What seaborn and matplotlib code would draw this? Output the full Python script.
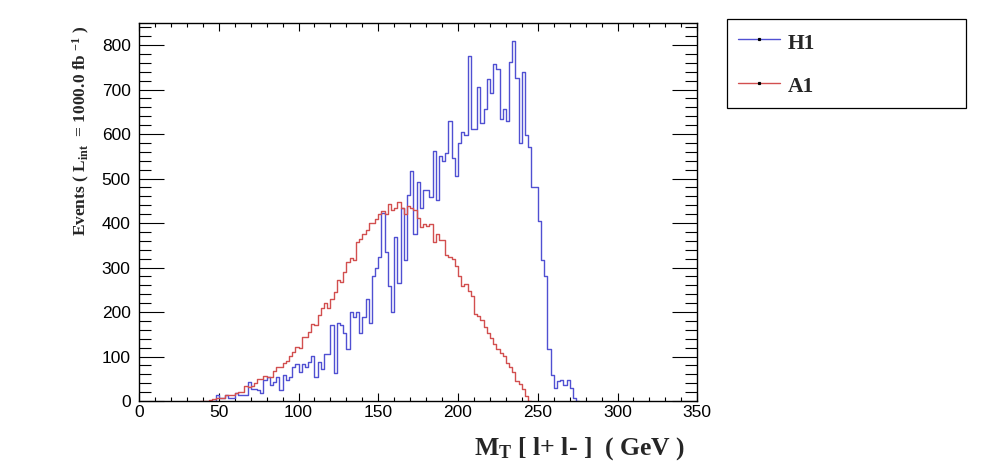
import numpy as np
import pandas as pd
import matplotlib
matplotlib.use("Agg")
import matplotlib.pyplot as plt
from matplotlib.ticker import MultipleLocator
from matplotlib.lines import Line2D
import seaborn as sns

# ---------------- data ----------------
bin_width = 2.0
x_range = (0, 350)

h1_first_bin = 46.0
h1_events = [0, 13, 6, 6, 14, 6, 6, 17, 14, 13,
             13, 42, 28, 28, 25, 17, 47, 53, 35, 43,
             53, 25, 59, 48, 53, 77, 83, 65, 83, 77,
             88, 101, 53, 87, 71, 106, 106, 171, 64, 176,
             171, 153, 116, 200, 189, 200, 153, 189, 230, 175,
             281, 299, 324, 423, 336, 258, 200, 369, 265, 434,
             318, 464, 518, 376, 493, 434, 475, 475, 459, 563,
             452, 551, 540, 558, 629, 547, 505, 581, 605, 599,
             775, 611, 611, 705, 624, 657, 723, 693, 757, 746,
             635, 657, 629, 763, 810, 727, 581, 740, 599, 570,
             482, 482, 405, 318, 282, 117, 59, 29, 44, 47,
             36, 47, 29, 6]

a1_first_bin = 40.0
a1_events = [1, 1, 2, 4, 6, 6, 6, 14, 13, 14,
             17, 20, 21, 33, 31, 34, 40, 49, 49, 56,
             53, 55, 68, 76, 76, 85, 89, 101, 110, 121,
             119, 144, 144, 156, 172, 170, 193, 208, 220, 209,
             229, 246, 272, 268, 291, 313, 322, 317, 358, 365,
             376, 385, 401, 400, 409, 421, 427, 421, 443, 430,
             434, 448, 434, 421, 439, 434, 430, 411, 391, 398,
             394, 397, 358, 376, 361, 363, 329, 323, 319, 303,
             280, 258, 263, 248, 235, 196, 190, 181, 166, 153,
             141, 129, 117, 107, 102, 85, 76, 65, 45, 38,
             26, 12]

series_names = ["H1", "A1"]
series_first = {"H1": h1_first_bin, "A1": a1_first_bin}
series_counts = {"H1": h1_events, "A1": a1_events}
series_colors = {"H1": "#5050d2", "A1": "#d24f4f"}
x_ticks = [0, 50, 100, 150, 200, 250, 300, 350]
y_ticks = [0, 100, 200, 300, 400, 500, 600, 700, 800]
y_max = 849

# ---------------- table for seaborn ----------------
def to_frame(name):
    counts = series_counts[name]
    centers = series_first[name] + bin_width * (np.arange(len(counts)) + 0.5)
    return pd.DataFrame({"mt": centers, "events": counts, "sample": name})

df = pd.concat([to_frame(n) for n in series_names], ignore_index=True)

# ---------------- style ----------------
sns.set_style("ticks")
plt.rcParams["font.family"] = ["Liberation Sans", "DejaVu Sans"]
plt.rcParams["mathtext.fontset"] = "custom"
plt.rcParams["mathtext.rm"] = "Liberation Serif:bold"
plt.rcParams["mathtext.it"] = "Liberation Serif:bold"
plt.rcParams["mathtext.bf"] = "Liberation Serif:bold"
plt.rcParams["mathtext.default"] = "bf"

fig = plt.figure(figsize=(9.96, 4.72), dpi=100)
ax = fig.add_axes([0.1396, 0.1504, 0.7001 - 0.1396, 0.9506 - 0.1504])

for name in series_names:
    sub = df[df["sample"] == name]
    lo = series_first[name] - bin_width
    hi = series_first[name] + bin_width * (len(series_counts[name]) + 1)
    sns.histplot(data=sub, x="mt", weights="events", binwidth=bin_width,
                 binrange=(lo, hi), element="step", fill=False,
                 color=series_colors[name], linewidth=1.0, ax=ax, zorder=2)

ax.set_xlim(*x_range)
ax.set_ylim(0, y_max)
ax.set_xticks(x_ticks)
ax.set_yticks(y_ticks)
ax.xaxis.set_minor_locator(MultipleLocator(10))
ax.yaxis.set_minor_locator(MultipleLocator(20))
ax.tick_params(which="both", direction="in", top=True, right=True,
               colors="black", width=0.8)
ax.tick_params(axis="x", which="major", length=5.8, pad=3, labelsize=12.5)
ax.tick_params(axis="x", which="minor", length=2.9)
ax.tick_params(axis="y", which="major", length=17.8, pad=6, labelsize=12.5)
ax.tick_params(axis="y", which="minor", length=8.9)
for sp in ax.spines.values():
    sp.set_visible(True)
    sp.set_linewidth(1.0)
    sp.set_color("black")
    sp.set_zorder(3)
ax.set_xlabel("")
ax.set_ylabel("")

# axis titles (ROOT style, bold serif)
fig.text(0.6877, 0.036, r"M$_{T}$ [ l+ l- ]  ( GeV )", ha="right",
         va="baseline", fontsize=18.5, family="Liberation Serif",
         weight="bold")
fig.text(0.0815, 0.947, r"Events ( L$_{int}$  = 1000.0 fb $^{-1}$ )",
         rotation=90, ha="center", va="top", fontsize=12.5,
         family="Liberation Serif", weight="bold")

# legend box outside the frame
handles = [Line2D([], [], color=series_colors[n], lw=1.0, marker="s",
                  markersize=1.3, markerfacecolor="black",
                  markeredgecolor="black") for n in series_names]
leg = fig.legend(handles, series_names, loc="upper left",
                 bbox_to_anchor=(0.730, 0.7733, 0.240, 0.1864),
                 mode="expand", borderaxespad=0, frameon=True,
                 fancybox=False, framealpha=1, edgecolor="black",
                 borderpad=0.52, handlelength=1.95, handleheight=1.2,
                 handletextpad=0.35, labelspacing=0.95, numpoints=1,
                 prop=dict(family="Liberation Serif", weight="bold", size=15.5))
leg.get_frame().set_linewidth(0.9)

fig.savefig("out.png", dpi=100)
